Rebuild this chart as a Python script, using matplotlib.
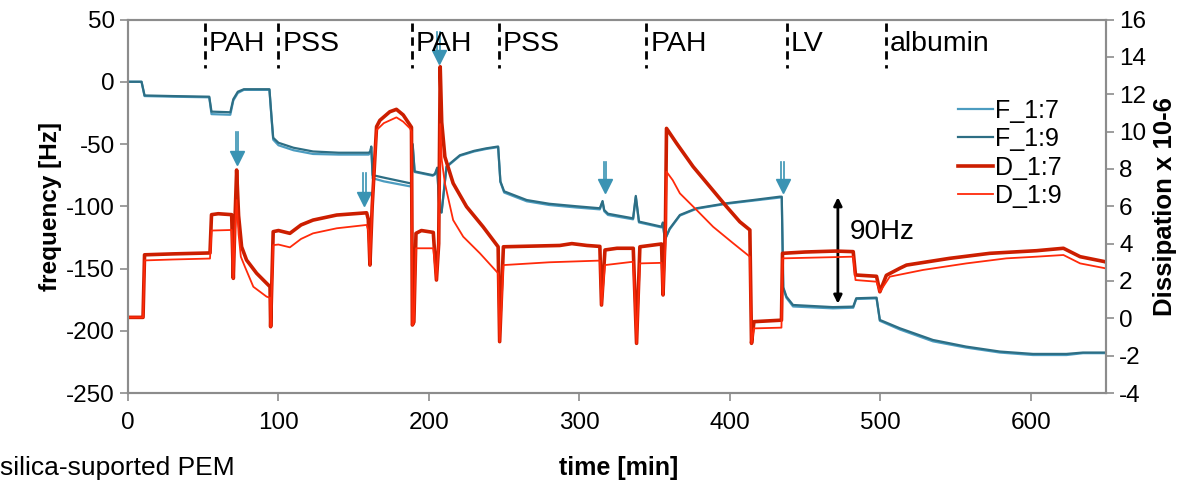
import numpy as np
import matplotlib
matplotlib.use("Agg")
import matplotlib.pyplot as plt

plt.rcParams["font.family"] = ["Liberation Sans", "DejaVu Sans"]
plt.rcParams["axes.unicode_minus"] = False

# ── Data (time [min], frequency [Hz] / dissipation) ────

f19_t = [0, 9, 11, 30, 54, 55.5, 68, 70, 73, 77, 94, 95.5, 96.5, 100, 110, 123, 140, 160,
         161, 161.7, 162.6, 170, 187.4, 188.5, 189.2, 190.5, 202.5, 204, 205.5, 207, 208.4,
         211.7, 220.6, 230, 238, 246, 247.5, 250, 265, 280, 298, 313.6, 315.4, 316.5, 319,
         335.7, 337.5, 339.6, 354.6, 355.5, 356.8, 360, 366.8, 377.9, 397.8, 415.5, 433.2,
         434.5, 435.5, 437.6, 442, 468.5, 482, 484, 497.5, 499.7, 513, 535, 557, 579.5,
         601.5, 623.7, 634.7, 650]
f19_v = [0, 0, -11, -11.5, -12, -24, -24.5, -14, -8, -6, -6, -30, -45, -49, -53, -56, -57, -57,
         -56, -52, -75, -77, -81.5, -81, -50, -72, -75, -74, -69, -103, -105,
         -68, -59, -55.5, -53.5, -52, -80, -88, -95, -98, -100, -101.6, -95.8, -103, -106,
         -109.7, -91.7, -112.3, -116.4, -113, -127, -118, -107, -101.6, -97.6, -95, -92.3,
         -92.3, -165, -172.6, -179.3, -181, -180.6, -173.9, -173.4, -191.3, -198, -207.4, -212.7, -216.7,
         -218.6, -218.6, -217.5, -217.5]

f17_t = [0, 9, 11, 30, 54, 55.5, 68, 70, 73, 77, 94, 95.5, 96.5, 100, 110, 123, 140, 160,
         161, 161.7, 162.6, 170, 187.4, 188.5, 189.2, 190.5, 202.5, 204, 205.5, 207, 208.4,
         211.7, 220.6, 230, 238, 246, 247.5, 250, 265, 280, 298, 313.6, 315.4, 316.5, 319,
         335.7, 337.5, 339.6, 354.6, 355.5, 356.8, 360, 366.8, 377.9, 397.8, 415.5, 433.2,
         434.5, 435.5, 437.6, 442, 468.5, 482, 484, 497.5, 499.7, 513, 535, 557, 579.5,
         601.5, 623.7, 634.7, 650]
f17_v = [0, 0, -11.5, -12, -12.5, -26, -26.5, -15, -9, -6.5, -6.5, -31, -46.5, -51, -55, -58, -58.5, -58.5,
         -57, -53, -77.5, -80, -84, -83.5, -51, -72.5, -75.5, -74.5, -70, -103, -105,
         -68.5, -59.5, -56, -54, -52.5, -80.5, -89, -96, -99, -101, -102.5, -96.5, -104, -107,
         -110.5, -92.5, -113, -117, -114, -127, -118.5, -107.5, -102, -98, -95.5, -93,
         -93, -166, -173.5, -180.5, -182, -181.5, -174.5, -174, -192, -199, -208.5, -213.5, -217.5,
         -219.5, -219.5, -218, -218]

d17_t = [0, 10, 11, 30, 54.5, 55.5, 60, 68.9, 70, 71, 72.2, 73.5, 75.5, 78.8, 85.5, 94.4,
         94.8, 96.5, 100, 107.6, 115, 123, 138.7, 158.6, 159.7, 160.8, 162.3, 165.2, 167.4,
         174, 178.4, 182.9, 188.4, 189, 190, 191.4, 195, 202.9, 205, 206.5, 207.5, 208.5,
         210.6, 216.1, 225, 236, 246, 247, 249.5, 260, 287, 295, 305, 313.6, 314.7, 317, 325,
         335.8, 338, 340.2, 354.6, 355.6, 357.2, 357.9, 364.6, 375.6, 386.7, 397.8, 406.6,
         413.3, 414.4, 416, 434.3, 435, 450, 470, 482, 483.5, 497.5, 499.7, 504, 513, 517.4,
         546, 572.8, 603.8, 621.7, 632.8, 649.4, 650]
d17_v = [0.05, 0.05, 3.4, 3.45, 3.5, 5.55, 5.6, 5.55, 2.14, 5.0, 7.94, 5.5, 3.83, 3.12, 2.41, 1.69,
         -0.45, 4.64, 4.7, 4.55, 5.0, 5.26, 5.53, 5.65, 5.3, 2.85, 6.0, 10.26, 10.6,
         11.06, 11.19, 10.89, 10.23, -0.36, -0.2, 4.55, 4.7, 4.6, 2.05, 4.0, 13.47, 10.5,
         8.65, 7.23, 5.98, 4.9, 3.83, -1.25, 3.83, 3.85, 3.9, 4.0, 3.9, 3.85, 0.71, 3.66, 3.75,
         3.75, -1.34, 3.83, 3.98, 1.25, 5.0, 10.17, 9.37, 8.12, 7.05, 5.98, 5.17,
         4.73, -1.34, -0.18, -0.1, 3.48, 3.55, 3.6, 3.57, 2.32, 2.25, 1.42, 2.3, 2.68, 2.85,
         3.21, 3.48, 3.62, 3.75, 3.3, 3.03, 3.0]

d19_t = [0, 10, 11, 30, 54.5, 55.5, 68.9, 70, 71, 72.2, 73.5, 75, 77.7, 83.3, 92.1, 94.4,
         94.8, 96.5, 100, 107.6, 115, 123, 138.7, 158.6, 159.7, 160.8, 162.3, 165.2, 170,
         178.4, 182.9, 187.4, 188.4, 189, 190, 191.4, 202.9, 205, 206.5, 207.5, 208.5,
         210.6, 216.1, 222.8, 233.9, 246, 247, 249.5, 280, 313.6, 314.7, 317, 335.8, 338,
         340.2, 354.6, 355.6, 357.2, 357.9, 362, 366.8, 377.9, 388.9, 402.2, 413.3, 414.4,
         416, 434.3, 435, 482, 483.5, 497.5, 499.7, 506.3, 528.4, 557.2, 583.8, 603.8,
         621.7, 632.8, 649.4, 650]
d19_v = [0.05, 0.05, 3.1, 3.15, 3.2, 4.7, 4.73, 2.14, 4.5, 6.33, 4.5, 3.3, 2.76, 1.69, 1.16, 1.1,
         -0.45, 3.92, 3.95, 3.8, 4.25, 4.55, 4.82, 5.0, 4.7, 2.85, 6.0, 10.08, 10.45,
         10.76, 10.53, 10.17, 10.0, -0.36, -0.2, 3.75, 3.75, 2.05, 4.0, 10.4, 8.5,
         7.23, 5.26, 4.37, 3.48, 2.41, -1.25, 2.85, 3.0, 3.09, 0.71, 2.85, 3.03, -1.34,
         2.94, 2.97, 1.25, 4.0, 7.85, 7.4, 6.69, 5.8, 4.9, 4.02, 3.3, -1.34,
         -0.54, -0.5, 3.21, 3.3, 2.05, 1.96, 1.42, 2.23, 2.59, 2.94, 3.21, 3.3,
         3.39, 2.94, 2.68, 2.68]

# step boundaries and names of the deposited layers
step_t     = [51.2, 100, 188.6, 246.8, 344.6, 438, 504]
step_names = ["PAH", "PSS", "PAH", "PSS", "PAH", "LV", "albumin"]

# injection arrows (time, top, tip) in Hz
arrow_t   = [72.5, 157, 206.5, 317, 435]
arrow_top = [-40, -73.5, 40, -64.5, -64.5]
arrow_tip = [-65.5, -99, 15, -88.5, -88.5]

C_F17 = "#4C9CC0"
C_F19 = "#2D6E84"
C_D17 = "#CC1E00"
C_D19 = "#FF2A0A"
C_ARW = "#3A93B3"
C_AX  = "#8C8C8C"

fig = plt.figure(figsize=(11.94, 4.84), dpi=100)
ax = fig.add_axes([0.1072, 0.188, 0.8191, 0.7717])
ax2 = ax.twinx()

l1, = ax.plot(f17_t, f17_v, color=C_F17, lw=1.6, label="F_1:7")
l2, = ax.plot(f19_t, f19_v, color=C_F19, lw=1.6, label="F_1:9")
l3, = ax2.plot(d17_t, d17_v, color=C_D17, lw=2.6, label="D_1:7")
l4, = ax2.plot(d19_t, d19_v, color=C_D19, lw=1.3, label="D_1:9")

ax.set_xlim(0, 650)
ax.set_ylim(-250, 50)
ax2.set_ylim(-4, 16)
ax.set_xticks(range(0, 601, 100))
ax.set_yticks(range(-250, 51, 50))
ax2.set_yticks(range(-4, 17, 2))

for a in (ax, ax2):
    for s in a.spines.values():
        s.set_color(C_AX)
        s.set_linewidth(1.5)
    a.tick_params(colors=C_AX, labelcolor="black", labelsize=17.5, length=6, width=1.2)
ax.tick_params(axis="x", pad=8)

ax.set_ylabel("frequency [Hz]", fontsize=17.5, fontweight="bold", labelpad=3)
ax2.set_ylabel("Dissipation x 10-6", fontsize=18.5, fontweight="bold", labelpad=5)
fig.text(0.518, 0.008, "time [min]", fontsize=18, fontweight="bold", ha="center", va="bottom")
fig.text(0.0, 0.008, "silica-suported PEM", fontsize=19, ha="left", va="bottom")

# layer boundaries
for t in step_t:
    ax.plot([t, t], [47, 11], color="black", lw=2, ls=(0, (3, 2)))
for t, name in zip(step_t, step_names):
    ax.text(t + 2.5, 30, name, fontsize=20.5, ha="left", va="center")

# injection arrows (double shaft)
for t, top, tip in zip(arrow_t, arrow_top, arrow_tip):
    base = tip + 9
    ax.plot([t - 0.9, t - 0.9], [top, base], color=C_ARW, lw=1.2)
    ax.plot([t + 0.9, t + 0.9], [top, base], color=C_ARW, lw=1.2)
    ax.plot([t], [tip + 4.5], marker="v", ms=10, color=C_ARW, mec=C_ARW)

# 90 Hz double arrow
ax.annotate("", xy=(471.8, -180.5), xytext=(471.8, -90.5),
            arrowprops=dict(arrowstyle="<|-|>", color="black", lw=2, mutation_scale=12))
ax.text(480, -121, "90Hz", fontsize=20, ha="left", va="center")

ax2.legend([l1, l2, l3, l4], ["F_1:7", "F_1:9", "D_1:7", "D_1:9"], loc="upper right",
           bbox_to_anchor=(0.965, 0.815), frameon=False, fontsize=18, handlelength=1.4,
           handletextpad=0.1, labelspacing=0.18, borderaxespad=0)

fig.savefig("out.png", dpi=100)
